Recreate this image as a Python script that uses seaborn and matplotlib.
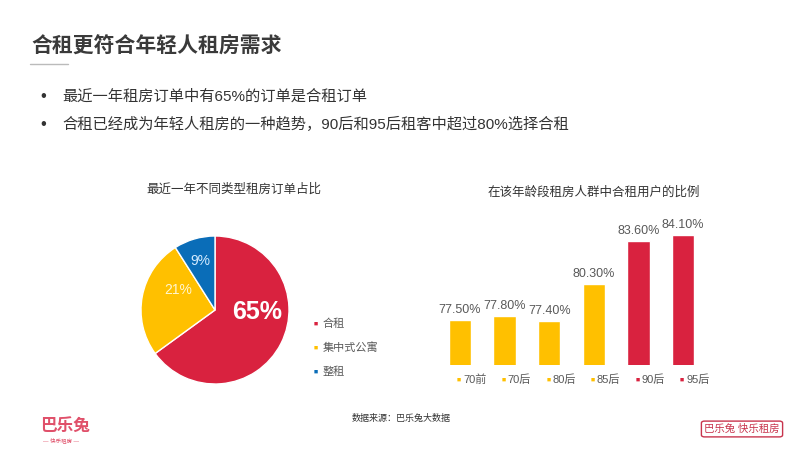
import matplotlib
matplotlib.use("Agg")
import matplotlib.pyplot as plt
from matplotlib.patches import FancyBboxPatch
import pandas as pd
import seaborn as sns

# data
pie_types = ["合租", "集中式公寓", "整租"]
pie_share = [65, 26, 9]          # slice sizes as drawn
pie_text = ["65%", "21%", "9%"]  # labels as printed on the slide
age_groups = ["70前", "70后", "80后", "85后", "90后", "95后"]
share_ratio = [77.5, 77.8, 77.4, 80.3, 83.6, 84.1]

RED = "#D9223F"
GOLD = "#FFC000"
BLUE = "#0A6DB8"
GRAY = "#595959"

sns.set_theme(style="white")
# Arial-like digits, CJK falls through to Noto
plt.rcParams["font.family"] = ["Liberation Sans", "Noto Sans CJK SC", "DejaVu Sans"]

W, H = 800, 450
fig = plt.figure(figsize=(8, 4.5), dpi=100)


def px(x, y):
    # pixel coords (top-left origin) -> figure fraction
    return x / W, 1 - y / H


# header
fig.text(*px(31, 47), "合租更符合年轻人租房需求", fontsize=15, fontweight="bold",
         color="#3a3a3a", va="center")
fig.add_artist(plt.Line2D([30 / W, 68 / W], [1 - 64 / H] * 2, color="#bbbbbb", lw=1))
bullets = ["最近一年租房订单中有65%的订单是合租订单",
           "合租已经成为年轻人租房的一种趋势，90后和95后租客中超过80%选择合租"]
for i, b in enumerate(bullets):
    y = 97 + i * 27
    fig.text(*px(40, y), "•", fontsize=12, color="#333333", va="center")
    fig.text(*px(62, y), b, fontsize=11, color="#333333", va="center")

# pie chart
cx, cy, r = 215, 310, 74
ax1 = fig.add_axes([(cx - r) / W, (H - cy - r) / H, 2 * r / W, 2 * r / H])
pie_colors = [RED, GOLD, BLUE]
wedges, _ = ax1.pie(pie_share, colors=pie_colors, startangle=90, counterclock=False,
                    wedgeprops=dict(edgecolor="white", linewidth=1))
ax1.set_xlim(-1, 1)
ax1.set_ylim(-1, 1)
ax1.set_aspect("equal")
label_pos = [(0.57, -0.03), (-0.5, 0.27), (-0.2, 0.66)]
label_size = [18, 10, 10]
for t, (lx, ly), s, c in zip(pie_text, label_pos, label_size, ["white", "#fff6d0", "#d6ecff"]):
    ax1.text(lx, ly, t, ha="center", va="center", fontsize=s, color=c,
             fontweight="bold" if s > 12 else "normal")
fig.text(*px(234, 190), "最近一年不同类型租房订单占比", fontsize=9, color="#333333",
         ha="center", va="center")
for i, (name, c) in enumerate(zip(pie_types, pie_colors)):
    y = 324 + i * 24
    fig.text(*px(314, y), "■", fontsize=5, color=c, va="center")
    fig.text(*px(323, y), name, fontsize=8, color=GRAY, va="center")

# bar chart
df = pd.DataFrame({"age": age_groups, "ratio": share_ratio})
bar_colors = [GOLD, GOLD, GOLD, GOLD, RED, RED]
step = 44.6
left = 460 - step / 2
y_lo, y_hi = 74, 87
scale = 130 / (84.1 - 74)
ax_h = (y_hi - y_lo) * scale
ax2 = fig.add_axes([left / W, (H - 365) / H, 6 * step / W, ax_h / H])
sns.barplot(data=df, x="age", y="ratio", hue="age", palette=bar_colors, width=0.5,
            legend=False, ax=ax2, saturation=1)
ax2.set_ylim(y_lo, y_hi)
ax2.set_xlim(-0.5, 5.5)
for cont in ax2.containers:
    ax2.bar_label(cont, fmt="%.2f%%", fontsize=9, color=GRAY, padding=3)
ax2.set_xticks([])
ax2.set_yticks([])
ax2.set_xlabel("")
ax2.set_ylabel("")
sns.despine(ax=ax2, left=True, bottom=True)
tr = ax2.get_xaxis_transform()
for i, (g, c) in enumerate(zip(age_groups, bar_colors)):
    ax2.text(i - 0.02, -15 / ax_h, "■", transform=tr, fontsize=5, color=c,
             ha="center", va="center")
    ax2.text(i + 0.07, -15 / ax_h, g, transform=tr, fontsize=8, color=GRAY,
             ha="left", va="center")
fig.text(*px(594, 193), "在该年龄段租房人群中合租用户的比例", fontsize=9,
         color="#333333", ha="center", va="center")

# footer
fig.text(*px(401, 418), "数据来源：巴乐兔大数据", fontsize=6.5, color="#333333",
         ha="center", va="center")
fig.text(*px(40, 426), "巴乐兔", fontsize=12, color="#E0506A", va="center",
         fontweight="bold")
fig.text(*px(61, 440), "— 快乐租房 —", fontsize=4, color="#E0506A", va="center",
         ha="center")
fig.add_artist(FancyBboxPatch(px(703, 436), 78 / W, 14 / H,
                              boxstyle="round,pad=0.002,rounding_size=0.004",
                              transform=fig.transFigure, fill=False,
                              edgecolor="#C8344D", lw=1))
fig.text(*px(742, 429), "巴乐兔 快乐租房", fontsize=7.5, color="#C8344D",
         ha="center", va="center")

fig.savefig("out.png", dpi=100, facecolor="white")
